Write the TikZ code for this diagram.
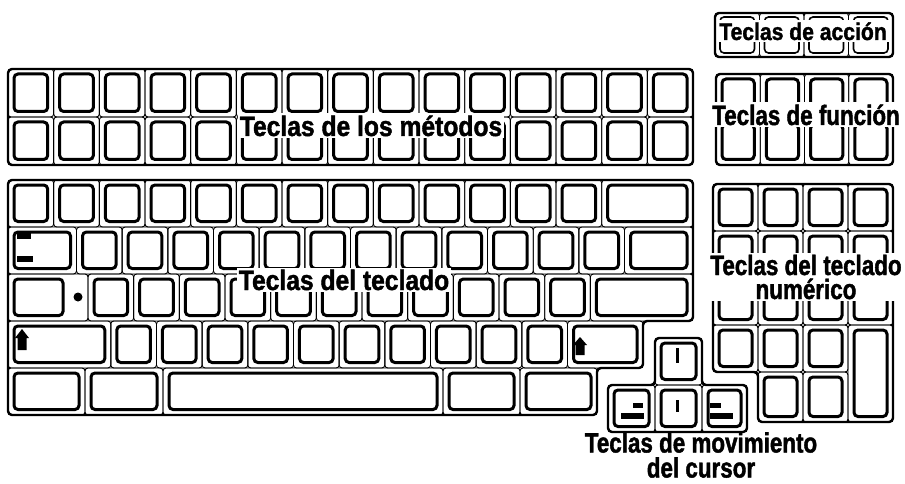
\documentclass[tikz,border=0pt]{standalone}
\usepackage{fontspec}
\newfontfamily\labfont{Liberation Sans}[FakeStretch=0.88,FakeBold=1.5]
\newfontfamily\labfontn{Liberation Sans}[FakeStretch=0.8,FakeBold=1.5]
\tikzset{
  frameline/.style={line width=2.4pt, rounded corners=4pt},
  cellline/.style={line width=0.9pt, rounded corners=3pt},
  keyline/.style={line width=3pt, rounded corners=4pt},
  actline/.style={line width=1.6pt, rounded corners=4pt},
  lab/.style={font={\labfont\bfseries\fontsize{28}{24}\selectfont}, fill=white, inner sep=2pt, align=center},
  labn/.style={font={\labfontn\bfseries\fontsize{28}{24}\selectfont}, fill=white, inner sep=2pt, align=center},
}
\newcommand\kcap[4]{\draw[cellline] (#1,#2) rectangle (#3,#4);
  \draw[keyline] ({#1+6},{#2+5}) rectangle ({#3-6},{#4-5.5});}
\newcommand\kcell[4]{\draw[cellline] (#1,#2) rectangle (#3,#4);}
\begin{document}
\begin{tikzpicture}[x=1pt,y=-1pt]
\useasboundingbox (0,0) rectangle (905,484);
\fill[white] (0,0) rectangle (905,484);
% ---------- action keys
\draw[frameline] (715,13) rectangle (893,57);
\foreach \i in {0,...,3}{
  \pgfmathsetmacro\xa{715+\i*44.5}\pgfmathsetmacro\xb{\xa+44.5}
  \kcell{\xa}{13}{\xb}{57}
  \draw[actline] ({\xa+5},17) rectangle ({\xb-5},53);
}
% ---------- method keys
\draw[frameline] (8,69) rectangle (693,165);
\foreach \i in {0,...,14}{
  \pgfmathsetmacro\xa{8+\i*45.67}\pgfmathsetmacro\xb{\xa+45.67}
  \kcap{\xa}{69}{\xb}{117}
  \kcap{\xa}{117}{\xb}{165}
}
% ---------- function keys
\draw[frameline] (716,74) rectangle (893,165);
\foreach \i in {0,...,3}{
  \pgfmathsetmacro\xa{716+\i*44.25}\pgfmathsetmacro\xb{\xa+44.25}
  \kcap{\xa}{74}{\xb}{119.5}
  \kcap{\xa}{119.5}{\xb}{165}
}
% ---------- main keyboard
\draw[frameline] (8,180) -- (693,180) -- (693,321) -- (643,321) -- (643,368)
  -- (597,368) -- (597,415) -- (8,415) -- cycle;
% row A
\foreach \i in {0,...,12}{
  \pgfmathsetmacro\xa{8+\i*45.67}\pgfmathsetmacro\xb{\xa+45.67}
  \kcap{\xa}{180}{\xb}{227}
}
\kcap{601.7}{180}{693}{227}
% row B
\kcap{8}{227}{76.5}{274}
\foreach \i in {0,...,11}{
  \pgfmathsetmacro\xa{76.5+\i*45.67}\pgfmathsetmacro\xb{\xa+45.67}
  \kcap{\xa}{227}{\xb}{274}
}
\kcap{624.5}{227}{693}{274}
% row C
\kcell{8}{274}{88}{321}
\draw[keyline] (14,279) rectangle (63,315.5);
\foreach \i in {0,...,10}{
  \pgfmathsetmacro\xa{88+\i*45.67}\pgfmathsetmacro\xb{\xa+45.67}
  \kcap{\xa}{274}{\xb}{321}
}
\kcap{590.4}{274}{693}{321}
% row D
\kcap{8}{321}{110.8}{368}
\foreach \i in {0,...,9}{
  \pgfmathsetmacro\xa{110.8+\i*45.67}\pgfmathsetmacro\xb{\xa+45.67}
  \kcap{\xa}{321}{\xb}{368}
}
\kcap{567.5}{321}{643}{368}
% row E
\kcap{8}{368}{85}{415}
\kcap{85}{368}{163}{415}
\kcap{163}{368}{443}{415}
\kcap{443}{368}{520}{415}
\kcap{520}{368}{597}{415}
% symbols
\fill (17,233) rectangle (31,239);
\fill (17,256) rectangle (33,262);
\fill (78,297) circle (4.5);
\fill (22,329) -- (29,338) -- (26.5,338) -- (26.5,350) -- (17.5,350) -- (17.5,338) -- (15,338) -- cycle;
\fill (580,337) -- (587,345) -- (584.5,345) -- (584.5,355) -- (575.5,355) -- (575.5,345) -- (573,345) -- cycle;
% ---------- cursor keys
\draw[frameline] (608,385) -- (655,385) -- (655,338) -- (702,338) -- (702,385)
  -- (747,385) -- (747,432) -- (608,432) -- cycle;
\kcap{655}{338}{702}{385}
\kcap{608}{385}{655}{432}
\kcap{655}{385}{702}{432}
\kcap{702}{385}{747}{432}
\draw[line width=3pt] (677.5,348) -- (677.5,363);
\draw[line width=3pt] (677.5,400) -- (677.5,412);
\fill (633,403) rectangle (643,408);
\fill (621,413) rectangle (644,419);
\fill (710,403) rectangle (721,408);
\fill (710,413) rectangle (733,419);
% ---------- numeric keypad
\draw[frameline] (713,184) -- (893,184) -- (893,422) -- (758,422) -- (758,372)
  -- (713,372) -- cycle;
\foreach \ya/\yb in {184/231,231/278,278/325}{
  \foreach \i in {0,...,3}{
    \pgfmathsetmacro\xa{713+\i*45}\pgfmathsetmacro\xb{\xa+45}
    \kcap{\xa}{\ya}{\xb}{\yb}
  }
}
\foreach \i in {0,...,2}{
  \pgfmathsetmacro\xa{713+\i*45}\pgfmathsetmacro\xb{\xa+45}
  \kcap{\xa}{325}{\xb}{372}
}
\kcap{758}{372}{803}{422}
\kcap{803}{372}{848}{422}
\kcap{848}{325}{893}{422}
% ---------- labels
\node[lab, anchor=base] (lact) at (803,40) {\fontsize{24}{24}\selectfont Teclas de acción};
\node[lab, anchor=base] (lmet) at (371,136) {Teclas de los métodos};
\node[labn, anchor=base] (lfun) at (806,125) {Teclas de función};
\node[lab, anchor=base] (ltec) at (344,290) {Teclas del teclado};
\node[labn] (lnum) at (806,277) {Teclas del teclado\\[0pt]numérico};
\node[labn, fill=none] (lcur) at (701,455) {Teclas de movimiento\\[1pt]del cursor};
\end{tikzpicture}
\end{document}
